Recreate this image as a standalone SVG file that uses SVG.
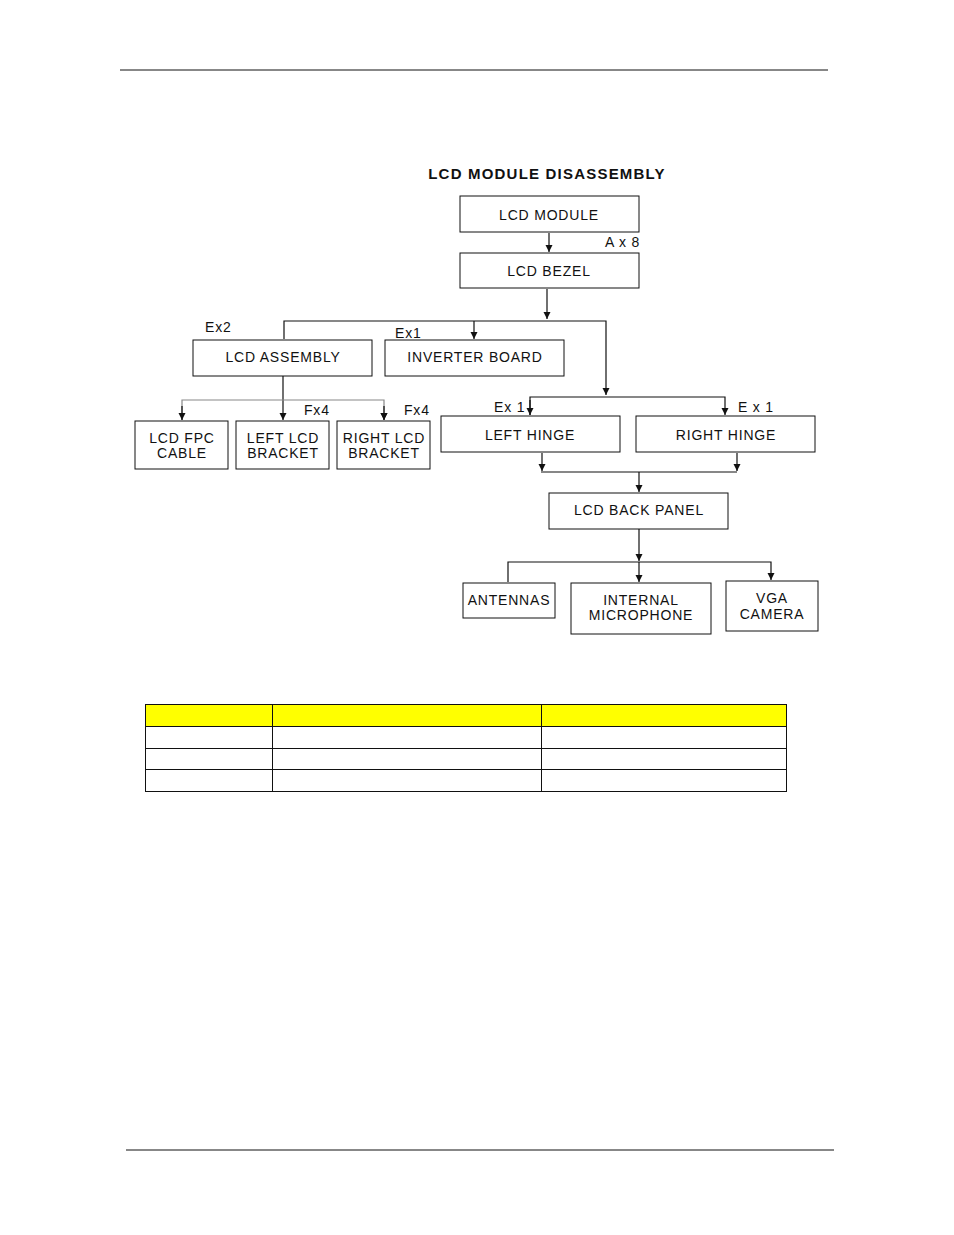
<svg xmlns="http://www.w3.org/2000/svg" width="954" height="1235" viewBox="0 0 954 1235">
<style>
text{font-family:"Liberation Sans",Arial,sans-serif;font-size:14px;fill:#111;letter-spacing:0.8px}
.b{fill:#fff;stroke:#111;stroke-width:1}
.t{text-anchor:middle}
.c line,.c polyline{stroke:#111;stroke-width:1.2;fill:none}
.tb rect{stroke:#111;stroke-width:1}
</style>
<defs><marker id="a" viewBox="0 0 10 10" refX="10" refY="5" markerWidth="7" markerHeight="9" markerUnits="userSpaceOnUse" orient="auto"><path d="M0,0L10,5L0,10z" fill="#111"/></marker></defs>
<rect width="954" height="1235" fill="#fff"/>
<line x1="120" y1="70" x2="828" y2="70" stroke="#111"/>
<line x1="126" y1="1150" x2="834" y2="1150" stroke="#111"/>
<text x="547" y="179" class="t" style="font-size:15px;font-weight:bold;letter-spacing:1.2px">LCD MODULE DISASSEMBLY</text>
<g class="c">
<line x1="549" y1="233" x2="549" y2="252" marker-end="url(#a)"/>
<line x1="547" y1="289" x2="547" y2="319" marker-end="url(#a)"/>
<polyline points="284,339 284,321 606,321 606,395" marker-end="url(#a)"/>
<line x1="474" y1="321" x2="474" y2="339" marker-end="url(#a)" stroke="#999"/>
<line x1="283" y1="376" x2="283" y2="420" marker-end="url(#a)"/>
<polyline points="182,420 182,400 384,400 384,420" marker-end="url(#a)" style="stroke:#888"/>
<line x1="182" y1="406" x2="182" y2="420" marker-end="url(#a)"/>
<line x1="384" y1="406" x2="384" y2="420" marker-end="url(#a)"/>
<polyline points="530,415 530,397 725,397 725,415" marker-end="url(#a)"/>
<line x1="530" y1="400" x2="530" y2="415" marker-end="url(#a)"/>
<line x1="542" y1="453" x2="542" y2="471" marker-end="url(#a)"/>
<line x1="737" y1="453" x2="737" y2="471" marker-end="url(#a)"/>
<line x1="541" y1="472" x2="737" y2="472"/>
<line x1="639" y1="472" x2="639" y2="492" marker-end="url(#a)"/>
<line x1="639" y1="529" x2="639" y2="561" marker-end="url(#a)"/>
<polyline points="508,582 508,562 771,562 771,580" marker-end="url(#a)"/>
<line x1="639" y1="562" x2="639" y2="582" marker-end="url(#a)"/>
</g>
<text x="605" y="247">A x 8</text>
<text x="205" y="332">Ex2</text>
<text x="395" y="338">Ex1</text>
<text x="304" y="415">Fx4</text>
<text x="404" y="415">Fx4</text>
<text x="494" y="412">Ex 1</text>
<text x="738" y="412">E x 1</text>
<g id="n1"><rect class="b" x="460" y="196" width="179" height="36"/><text x="549" y="220" class="t">LCD MODULE</text></g>
<g id="n2"><rect class="b" x="460" y="253" width="179" height="35"/><text x="549" y="276" class="t">LCD BEZEL</text></g>
<g id="n3"><rect class="b" x="193" y="340" width="179" height="36"/><text x="283" y="362" class="t">LCD  ASSEMBLY</text></g>
<g id="n4"><rect class="b" x="385" y="340" width="179" height="36"/><text x="475" y="362" class="t">INVERTER BOARD</text></g>
<g id="n5"><rect class="b" x="135" y="421" width="93" height="48"/><text x="182" y="443" class="t">LCD FPC</text><text x="182" y="458" class="t">CABLE</text></g>
<g id="n6"><rect class="b" x="236" y="421" width="93" height="48"/><text x="283" y="443" class="t">LEFT LCD</text><text x="283" y="458" class="t">BRACKET</text></g>
<g id="n7"><rect class="b" x="337" y="421" width="93" height="48"/><text x="384" y="443" class="t">RIGHT LCD</text><text x="384" y="458" class="t">BRACKET</text></g>
<g id="n8"><rect class="b" x="441" y="416" width="179" height="36"/><text x="530" y="440" class="t">LEFT    HINGE</text></g>
<g id="n9"><rect class="b" x="636" y="416" width="179" height="36"/><text x="726" y="440" class="t">RIGHT    HINGE</text></g>
<g id="n10"><rect class="b" x="549" y="493" width="179" height="36"/><text x="639" y="515" class="t">LCD  BACK  PANEL</text></g>
<g id="n11"><rect class="b" x="463" y="583" width="92" height="35"/><text x="509" y="605" class="t">ANTENNAS</text></g>
<g id="n12"><rect class="b" x="571" y="583" width="140" height="51"/><text x="641" y="605" class="t">INTERNAL</text><text x="641" y="620" class="t">MICROPHONE</text></g>
<g id="n13"><rect class="b" x="726" y="581" width="92" height="50"/><text x="772" y="603" class="t">VGA</text><text x="772" y="619" class="t">CAMERA</text></g>
<g class="tb">
<rect x="145.5" y="704.5" width="641" height="22" fill="#ffff00"/>
<rect x="145.5" y="726.5" width="641" height="65" fill="#fff"/>
<line x1="145.5" y1="748.5" x2="786.5" y2="748.5" stroke="#111"/>
<line x1="145.5" y1="769.5" x2="786.5" y2="769.5" stroke="#111"/>
<line x1="272.5" y1="704.5" x2="272.5" y2="791.5" stroke="#111"/>
<line x1="541.5" y1="704.5" x2="541.5" y2="791.5" stroke="#111"/>
</g>
</svg>
